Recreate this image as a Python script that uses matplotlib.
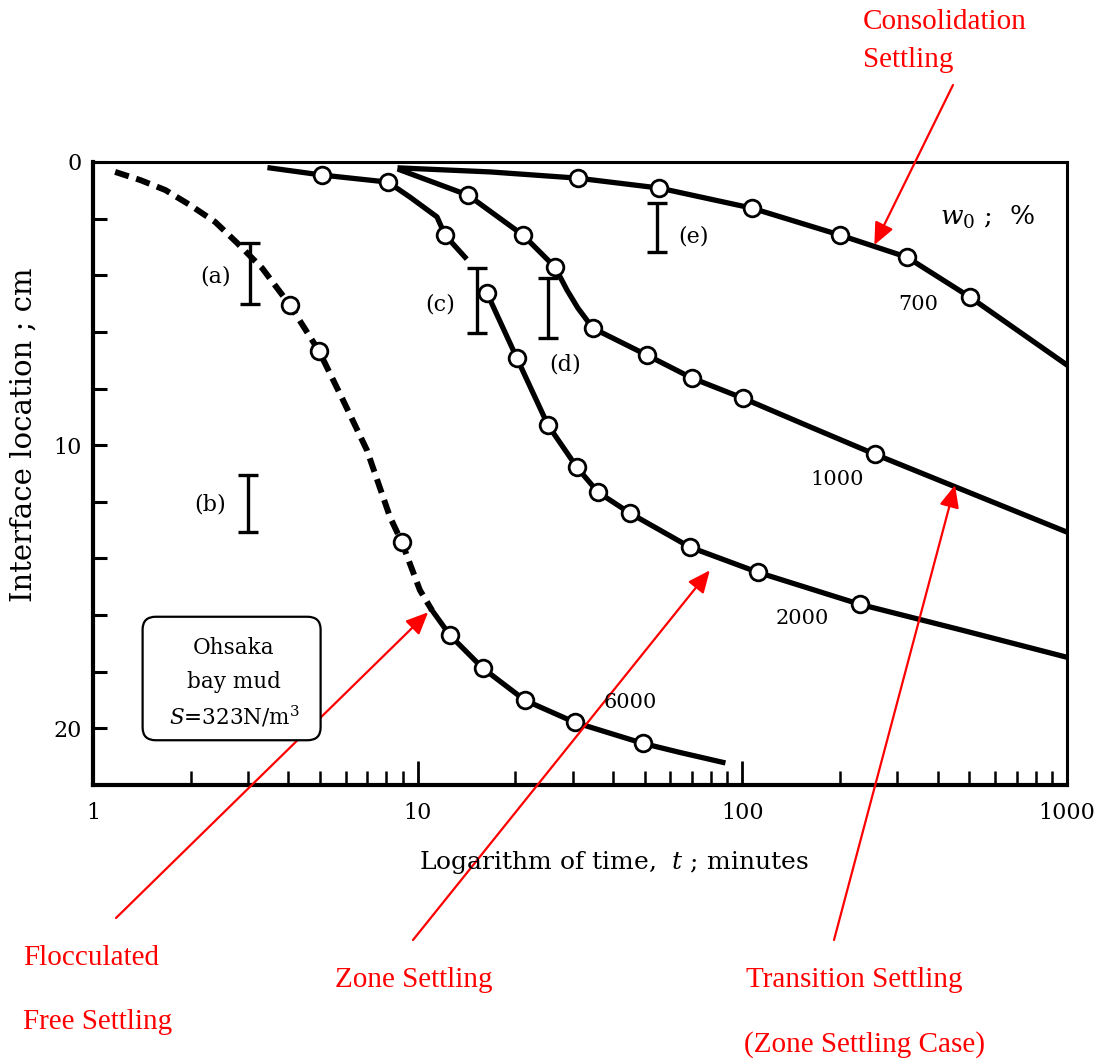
import matplotlib
matplotlib.use("Agg")
import matplotlib.pyplot as plt
from matplotlib.patches import FancyBboxPatch
from matplotlib.ticker import FixedLocator, NullFormatter

# ---------------- data ----------------
# w0 = 6000 %, dashed (flocculated free settling) part
t6000_dash = [1.17, 1.40, 1.67, 1.99, 2.38, 2.78, 3.32, 4.04, 4.97, 5.89, 6.98, 8.22, 8.94, 10.16, 11.07]
z6000_dash = [0.35, 0.64, 0.99, 1.52, 2.12, 2.86, 3.75, 5.05, 6.68, 8.41, 10.18, 12.54, 13.43, 15.12, 15.83]
# w0 = 6000 %, solid part
t6000_solid = [11.07, 12.57, 15.89, 21.41, 30.51, 49.42, 64.2, 87.1]
z6000_solid = [15.83, 16.71, 17.88, 19.01, 19.79, 20.53, 20.85, 21.20]
t6000_mark = [4.04, 4.97, 8.94, 12.57, 15.89, 21.41, 30.51, 49.42]
z6000_mark = [5.05, 6.68, 13.43, 16.71, 17.88, 19.01, 19.79, 20.53]

# w0 = 2000 %, first and second segments (gap at (c))
t2000_a = [3.51, 5.07, 8.10, 9.47, 11.47, 12.14, 13.99]
z2000_a = [0.21, 0.46, 0.71, 1.24, 1.94, 2.58, 3.36]
t2000_b = [16.35, 20.22, 25.19, 30.94, 35.92, 45.07, 68.97, 111.7, 230.2, 478.0, 1000.0]
z2000_b = [4.63, 6.93, 9.29, 10.78, 11.66, 12.40, 13.60, 14.49, 15.62, 16.54, 17.49]
t2000_mark = [5.07, 8.10, 12.14, 16.35, 20.22, 25.19, 30.94, 35.92, 45.07, 68.97, 111.7, 230.2]
z2000_mark = [0.46, 0.71, 2.58, 4.63, 6.93, 9.29, 10.78, 11.66, 12.40, 13.60, 14.49, 15.62]

# w0 = 1000 %
t1000 = [8.83, 14.29, 21.10, 26.48, 28.83, 31.16, 34.67, 50.84, 69.96, 100.4, 161.5, 256.1, 1000.0]
z1000 = [0.28, 1.17, 2.58, 3.71, 4.52, 5.16, 5.87, 6.82, 7.63, 8.34, 9.35, 10.32, 13.07]
t1000_mark = [14.29, 21.10, 26.48, 34.67, 50.84, 69.96, 100.4, 256.1]
z1000_mark = [1.17, 2.58, 3.71, 5.87, 6.82, 7.63, 8.34, 10.32]

# w0 = 700 %
t700 = [8.83, 16.7, 31.1, 55.5, 107.1, 199.8, 321.3, 502.3, 1000.0]
z700 = [0.21, 0.35, 0.57, 0.92, 1.63, 2.58, 3.36, 4.77, 7.17]
t700_mark = [31.1, 55.5, 107.1, 199.8, 321.3, 502.3]
z700_mark = [0.57, 0.92, 1.63, 2.58, 3.36, 4.77]

# range bars (a)-(e): time, top, bottom
bar_names = ["(a)", "(b)", "(c)", "(d)", "(e)"]
bar_t = [3.05, 3.00, 15.2, 25.2, 54.6]
bar_top = [2.86, 11.06, 3.75, 4.10, 1.45]
bar_bot = [5.02, 13.07, 6.04, 6.22, 3.18]

x_major = [1, 10, 100, 1000]
x_major_labels = ["1", "10", "100", "1000"]
y_major = [0, 10, 20]
y_minor = [2, 4, 6, 8, 12, 14, 16, 18]

# red annotation arrow tips (data) and tails (figure pixels from top-left)
arrow_tips = [(255.0, 2.93), (10.77, 15.9), (79.4, 14.42), (452.0, 11.41)]
arrow_tails_px = [(953, 85), (116, 918), (413, 940), (834, 940)]

# ---------------- figure ----------------
W, H = 1099, 1061
fig = plt.figure(figsize=(W / 100, H / 100), dpi=100)
fig.patch.set_facecolor("white")
plt.rcParams["mathtext.fontset"] = "dejavuserif"

def fx(px):
    return px / W

def fy(py):
    return 1 - py / H

ax = fig.add_axes([fx(93), fy(785), (1067 - 93) / W, (785 - 162) / H])
ax.set_xscale("log")
ax.set_xlim(1, 1000)
ax.set_ylim(22, 0)

serif = "DejaVu Serif"
lw_curve = 3.8
mk = dict(marker="o", markersize=12, markerfacecolor="white",
          markeredgecolor="black", markeredgewidth=2.0, linestyle="none", zorder=5)

ax.plot(t6000_dash, z6000_dash, color="black", lw=4.3, linestyle=(0, (2.4, 1.3)),
        solid_capstyle="butt", dash_capstyle="butt", zorder=3)
ax.plot(t6000_solid, z6000_solid, color="black", lw=lw_curve, zorder=3)
ax.plot(t6000_mark, z6000_mark, **mk)

ax.plot(t2000_a, z2000_a, color="black", lw=lw_curve, zorder=3)
ax.plot(t2000_b, z2000_b, color="black", lw=lw_curve, zorder=3)
ax.plot(t2000_mark, z2000_mark, **mk)

ax.plot(t1000, z1000, color="black", lw=lw_curve, zorder=3)
ax.plot(t1000_mark, z1000_mark, **mk)

ax.plot(t700, z700, color="black", lw=lw_curve, zorder=3)
ax.plot(t700_mark, z700_mark, **mk)

# range bars
for t, a, b in zip(bar_t, bar_top, bar_bot):
    c = (a + b) / 2
    ax.errorbar([t], [c], yerr=[[c - a], [b - c]], fmt="none", ecolor="black",
                elinewidth=2.4, capsize=7.5, capthick=2.4, zorder=4)

# spines & ticks
for s in ["left", "bottom"]:
    ax.spines[s].set_linewidth(3.0)
for s in ["top", "right"]:
    ax.spines[s].set_linewidth(2.2)

ax.xaxis.set_major_locator(FixedLocator(x_major))
ax.set_xticklabels(x_major_labels)
ax.xaxis.set_minor_locator(FixedLocator([m * d for d in [1, 10, 100] for m in range(2, 10)]))
ax.xaxis.set_minor_formatter(NullFormatter())
ax.yaxis.set_major_locator(FixedLocator(y_major))
ax.set_yticklabels([str(v) for v in y_major])
ax.yaxis.set_minor_locator(FixedLocator(y_minor))

ax.tick_params(axis="x", which="major", direction="in", length=17, width=2.0,
               pad=12, labelsize=16, top=False)
ax.tick_params(axis="x", which="minor", direction="in", length=10, width=1.8, top=False)
ax.tick_params(axis="y", which="both", direction="in", length=10, width=2.2,
               pad=8, labelsize=16, right=False)
for lab in ax.get_xticklabels() + ax.get_yticklabels():
    lab.set_fontfamily(serif)

# axis titles
fig.text(fx(614), fy(862), "Logarithm of time,  $t$ ; minutes", fontsize=18,
         family=serif, ha="center", va="center")
fig.text(fx(24), fy(435), "Interface location ; cm", fontsize=21, family=serif,
         rotation=90, ha="center", va="center")

# labels inside plot
def ptext(px, py, s, size=15, **kw):
    fig.text(fx(px), fy(py), s, fontsize=size, family=serif, ha="center", va="center", **kw)

label_pos = [(216, 276), (210, 505), (440, 305), (565, 364), (693, 236)]
for (px, py), name in zip(label_pos, bar_names):
    ptext(px, py, name, size=16)

ptext(918, 305, "700")
ptext(837, 480, "1000")
ptext(802, 618, "2000")
ptext(630, 703, "6000")
ptext(987, 217, r"$w_0$ ;  %", size=19)

# info box
box = FancyBboxPatch((fx(147), fy(736)), fx(325) - fx(147) - 0.008, fy(621) - fy(736),
                     boxstyle="round,pad=0.004,rounding_size=0.012",
                     transform=fig.transFigure, facecolor="white", edgecolor="black",
                     linewidth=1.6, zorder=6)
fig.add_artist(box)
for py, s in [(648, "Ohsaka"), (682, "bay mud"), (717, r"$S$=323N/m$^3$")]:
    fig.text(fx(234), fy(py), s, fontsize=15.5, family=serif, ha="center", va="center", zorder=7)

# red annotations
for (tx, tz), (px, py) in zip(arrow_tips, arrow_tails_px):
    ax.annotate("", xy=(tx, tz), xycoords="data", xytext=(px, H - py),
                textcoords="figure pixels", annotation_clip=False,
                arrowprops=dict(arrowstyle="-|>,head_length=0.9,head_width=0.4",
                                color="red", lw=1.6, shrinkA=0, shrinkB=0,
                                mutation_scale=15), zorder=8)

red = dict(fontsize=21, family="Liberation Serif", color="red", ha="left", va="baseline")
fig.text(fx(863), fy(29), "Consolidation", **red)
fig.text(fx(863), fy(67), "Settling", **red)
fig.text(fx(23), fy(965), "Flocculated", **red)
fig.text(fx(23), fy(1029), "Free Settling", **red)
fig.text(fx(335), fy(987), "Zone Settling", **red)
fig.text(fx(746), fy(987), "Transition Settling", **red)
fig.text(fx(744), fy(1052), "(Zone Settling Case)", **red)

fig.savefig("out.png", dpi=100)
